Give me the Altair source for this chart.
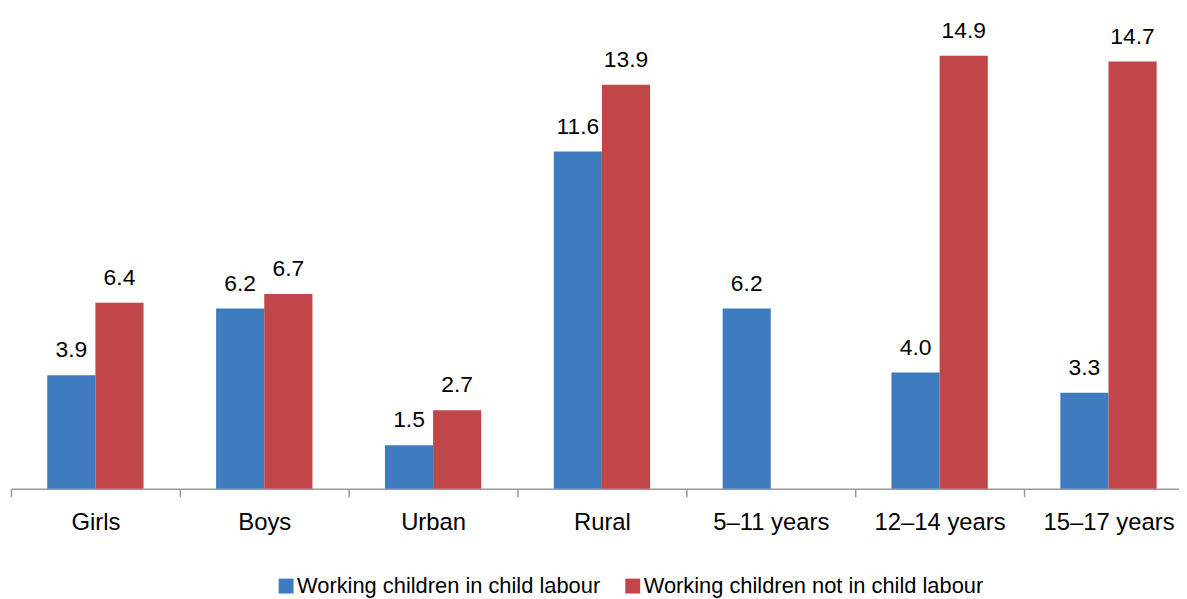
import altair as alt
import pandas as pd

categories = ["Girls", "Boys", "Urban", "Rural", "5–11 years", "12–14 years", "15–17 years"]
series = ["Working children in child labour", "Working children not in child labour"]
in_labour = [3.9, 6.2, 1.5, 11.6, 6.2, 4.0, 3.3]
not_in_labour = [6.4, 6.7, 2.7, 13.9, None, 14.9, 14.7]

rows = []
for c, a, b in zip(categories, in_labour, not_in_labour):
    if a is not None:
        rows.append({"cat": c, "series": series[0], "value": a})
    if b is not None:
        rows.append({"cat": c, "series": series[1], "value": b})
df = pd.DataFrame(rows)

FONT = "Liberation Sans Narrow, Arial Narrow, Liberation Sans, Arial"
colors = ["#3F7CBF", "#C0464A"]

x = alt.X("cat:N", sort=categories, title=None,
          scale=alt.Scale(paddingInner=0, paddingOuter=0),
          axis=alt.Axis(tickBand="extent", labelAngle=0, domainColor="#9a9a9a", domainWidth=1.5,
                        tickColor="#9a9a9a", tickWidth=1.5, tickSize=8, labelPadding=14,
                        labelFontSize=24, labelFont=FONT, labelColor="#000000"))
xo = alt.XOffset("series:N", sort=series,
                 scale=alt.Scale(paddingInner=0, paddingOuter=0.753))
y = alt.Y("value:Q", scale=alt.Scale(domain=[0, 16.47], nice=False, zero=True), axis=None)

bars = alt.Chart(df).mark_bar(strokeWidth=0).encode(
    x=x, xOffset=xo, y=y,
    color=alt.Color("series:N", sort=series,
                    scale=alt.Scale(domain=series, range=colors),
                    legend=alt.Legend(title=None, orient="none", legendX=266, legendY=569,
                                      direction="horizontal", symbolType="square",
                                      symbolSize=225, symbolStrokeWidth=0,
                                      labelFont=FONT, labelFontSize=22, labelColor="#000000",
                                      labelOffset=0, columnPadding=21, labelLimit=600)),
)
labels = alt.Chart(df).mark_text(baseline="alphabetic", dy=-18, fontSize=23, font=FONT,
                                 color="#000000").encode(
    x=x, xOffset=xo, y=y, text=alt.Text("value:Q", format=".1f")
)

chart = (bars + labels).properties(
    width=1190, height=482,
    autosize=alt.AutoSizeParams(type="none"),
    padding={"left": 3, "top": 0, "right": -14, "bottom": 108},
).configure_view(stroke=None)

chart.save("out.html", embed_options={"renderer": "svg", "actions": False})
